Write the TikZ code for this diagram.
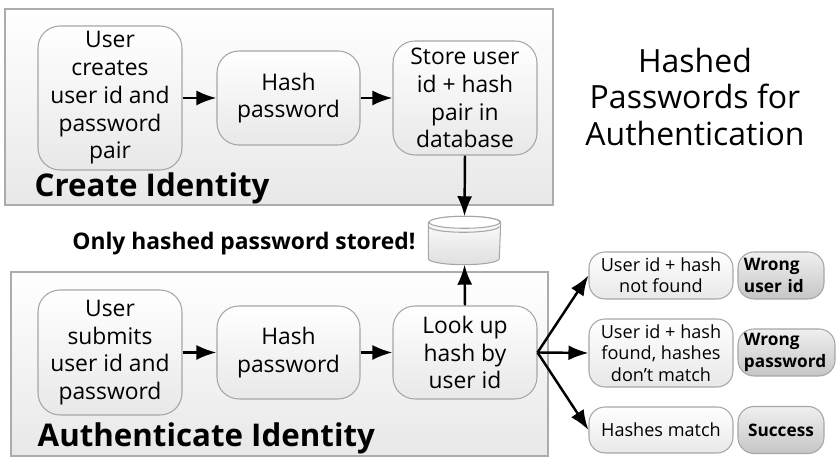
\documentclass[tikz,border=0pt]{standalone}
\usepackage{fontspec}
\setmainfont{Open Sans}
\usetikzlibrary{
    arrows.meta,
    calc
}
\tikzset{
    panel/.style={draw=gray!65, line width=0.3pt, top color=white, bottom color=gray!18},
    stepbox/.style={draw=gray!70, line width=0.3pt, rounded corners=2.2mm, top color=white, bottom color=gray!18, align=center, font=\fontsize{6.5}{7.9}\selectfont, inner sep=0pt},
    outbox/.style={stepbox, rounded corners=1.6mm, font=\fontsize{5.15}{6.1}\selectfont, minimum width=1.44cm},
    resultbox/.style={draw=gray!70, line width=0.3pt, rounded corners=1.6mm, top color=gray!12, bottom color=gray!45, font=\bfseries\fontsize{4.9}{6.1}\selectfont, inner sep=0pt, minimum height=0.47cm},
    flow/.style={-{Latex[length=2mm, width=1.5mm]}, line width=0.7pt}
}
\begin{document}
\begin{tikzpicture}
        \useasboundingbox (0,0) rectangle (8.36,4.57);

        % Create identity
        \node[panel, minimum width=5.48cm, minimum height=1.96cm] (createpanel) at (2.79,3.50) {};
        \node[stepbox, minimum width=1.44cm, minimum height=1.44cm] (createuser) at (1.10,3.59) {User\\creates\\user id and\\password\\pair};
        \node[stepbox, minimum width=1.43cm, minimum height=0.94cm] (createhash) at (2.885,3.59) {Hash\\password};
        \node[stepbox, minimum width=1.44cm, minimum height=1.14cm] (store) at (4.65,3.59) {Store user\\id + hash\\pair in\\database};
        \node[font=\bfseries\fontsize{8.9}{9}\selectfont, anchor=base west, inner sep=0pt] (createlabel) at (0.34,2.60) {Create Identity};

        % Title
        \node[align=center, font=\fontsize{9.1}{10.5}\selectfont] (title) at (6.95,3.60) {Hashed\\Passwords for\\Authentication};

        % Database
        \node[minimum width=0.71cm, minimum height=0.47cm, inner sep=0pt] (db) at (4.645,2.165) {};
        \draw[draw=gray!70, line width=0.3pt, top color=white, bottom color=gray!25] ($(db.north west)+(0,-0.06)$) -- ($(db.south west)+(0,0.06)$) arc[start angle=180, end angle=360, x radius=0.355, y radius=0.06] -- ($(db.north east)+(0,-0.06)$) arc[start angle=0, end angle=180, x radius=0.355, y radius=0.06] -- cycle;
        \draw[draw=gray!70, line width=0.3pt, fill=white] ($(db.north)+(0,-0.06)$) ellipse[x radius=0.355, y radius=0.06];
        \draw[gray!70, line width=0.3pt] ($(db.north west)+(0,-0.10)$) arc[start angle=180, end angle=360, x radius=0.355, y radius=0.06];
        \node[font=\bfseries\fontsize{6.5}{7}\selectfont, anchor=base east, inner sep=0pt] (stored) at (4.16,2.07) {Only hashed password stored!};

        % Authenticate identity
        \node[panel, minimum width=5.37cm, minimum height=1.84cm] (authpanel) at (2.795,0.93) {};
        \node[stepbox, minimum width=1.44cm, minimum height=1.25cm] (authuser) at (1.10,1.045) {User\\submits\\user id and\\password};
        \node[stepbox, minimum width=1.43cm, minimum height=0.93cm] (authhash) at (2.885,1.045) {Hash\\password};
        \node[stepbox, minimum width=1.44cm, minimum height=0.93cm] (lookup) at (4.65,1.045) {Look up\\hash by\\user id};
        \node[font=\bfseries\fontsize{8.9}{9}\selectfont, anchor=base west, inner sep=0pt] (authlabel) at (0.37,0.10) {Authenticate Identity};

        % Outcomes
        \node[outbox, minimum height=0.47cm] (notfound) at (6.61,1.815) {User id + hash\\not found};
        \node[outbox, minimum height=0.68cm] (nomatch) at (6.61,1.04) {User id + hash\\found, hashes\\don't match};
        \node[outbox, minimum height=0.46cm] (match) at (6.61,0.27) {Hashes match};
        \node[resultbox, minimum width=0.86cm, text width=0.74cm, align=left] (wronguser) at (7.81,1.815) {Wrong\\user id};
        \node[resultbox, minimum width=0.97cm, text width=0.85cm, align=left] (wrongpass) at (7.865,1.045) {Wrong\\password};
        \node[resultbox, minimum width=0.86cm] (success) at (7.81,0.27) {Success};

        % Arrows
        \draw[flow] (createuser) -- (createhash);
        \draw[flow] (createhash) -- (store);
        \draw[flow] (store.south) -- (db.north);
        \draw[flow] (authuser) -- (authhash);
        \draw[flow] (authhash) -- (lookup);
        \draw[flow] (lookup.north) -- (db.south);
        \draw[flow] (lookup.east) -- (notfound.west);
        \draw[flow] (lookup.east) -- (nomatch.west);
        \draw[flow] (lookup.east) -- (match.west);
    \end{tikzpicture}
\end{document}
